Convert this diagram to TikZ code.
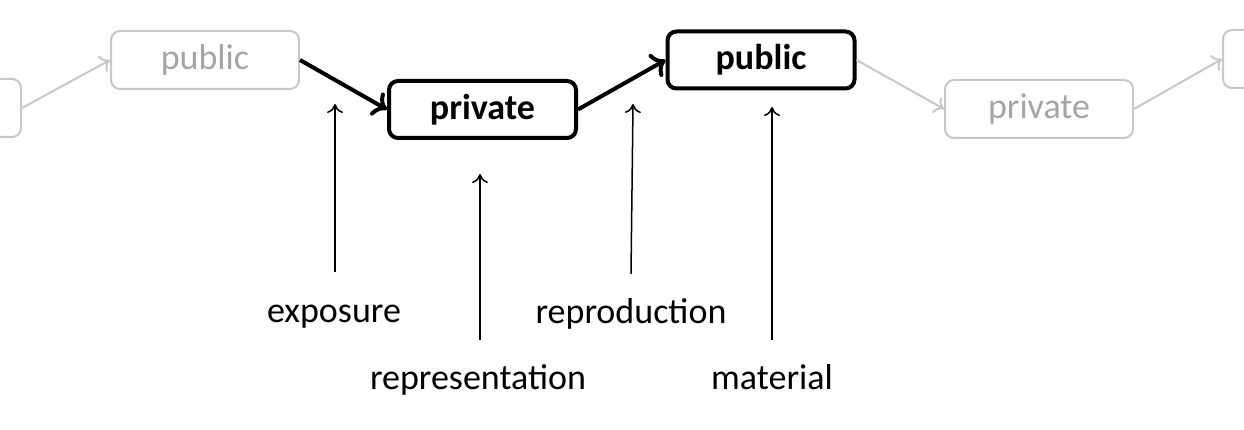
\documentclass[tikz,border=0pt]{standalone}
\usepackage{fontspec}
\setmainfont{Carlito}
\usetikzlibrary{arrows.meta}
\definecolor{lightline}{HTML}{C8C8C8}
\definecolor{lighttext}{HTML}{A5A5A5}
\begin{document}
\begin{tikzpicture}[x=1pt,y=-1pt,
  faded/.style={draw=lightline, line width=2pt, rounded corners=9pt,
    minimum width=188pt, minimum height=58pt, text=lighttext,
    font=\fontsize{36}{40}\selectfont, inner sep=0pt,
    text height=25pt, text depth=5pt},
  strong/.style={draw=black, line width=4pt, rounded corners=9pt,
    minimum width=187pt, minimum height=57pt,
    font=\fontsize{36}{40}\selectfont\bfseries, inner sep=0pt,
    text height=25pt, text depth=5pt},
  fadedarrow/.style={draw=lightline, line width=2pt, -{To[length=9pt,width=18pt]}},
  strongarrow/.style={draw=black, line width=4pt, -{To[length=13pt,width=26pt]}},
  thinarrow/.style={draw=black, line width=1.5pt, -{To[length=9pt,width=16pt]}},
  lbl/.style={font=\fontsize{36}{40}\selectfont, inner sep=0pt, anchor=base}]
\useasboundingbox (0,0) rectangle (1244,430);
\fill[white] (0,0) rectangle (1244,430);
\begin{scope}
\clip (0,0) rectangle (1244,430);
\node[faded] (b0) at (-73,108) {};
\node[faded] (pub1) at (205,60) {public};
\node[strong] (priv) at (482.5,109.5) {private};
\node[strong] (pub2) at (761,60) {public};
\node[faded] (priv2) at (1039,109) {private};
\node[faded] (b5) at (1317,59) {};
\draw[fadedarrow] (b0.east) -- (pub1.west);
\draw[strongarrow] (pub1.east) -- (priv.west);
\draw[strongarrow] (priv.east) -- (pub2.west);
\draw[fadedarrow] (pub2.east) -- (priv2.west);
\draw[fadedarrow] (priv2.east) -- (b5.west);
\end{scope}
\node[lbl] (expo) at (334,322) {exposure};
\node[lbl] (repr) at (478,389) {representation};
\node[lbl] (repro) at (631,323) {reproduction};
\node[lbl] (mat) at (772,389) {material};
\coordinate (expoA) at (335,272);
\coordinate (expoB) at (335,104);
\coordinate (reprA) at (480,340);
\coordinate (reprB) at (480,174);
\coordinate (reproA) at (631,274);
\coordinate (reproB) at (633,104);
\coordinate (matA) at (772,340);
\coordinate (matB) at (772,107);
\draw[thinarrow] (expoA) -- (expoB);
\draw[thinarrow] (reprA) -- (reprB);
\draw[thinarrow] (reproA) -- (reproB);
\draw[thinarrow] (matA) -- (matB);
\end{tikzpicture}
\end{document}
